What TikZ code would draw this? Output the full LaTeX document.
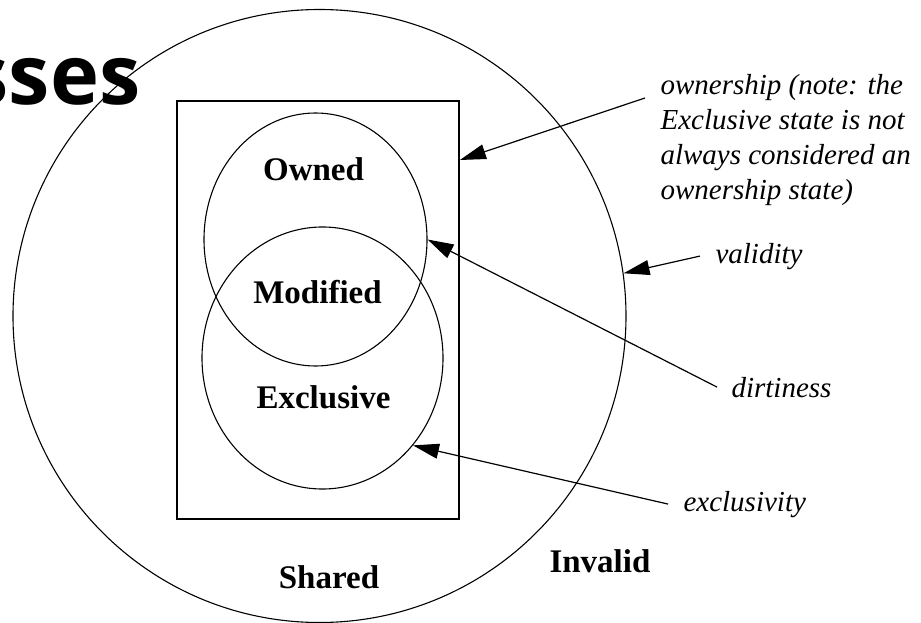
\documentclass[tikz,border=0pt]{standalone}
\usepackage{fontspec}
\setmainfont{Liberation Serif}
\newfontfamily\slidefont{Open Sans}
\usetikzlibrary{shapes.geometric, arrows.meta}

\begin{document}
\begin{tikzpicture}[x=1pt, y=-1pt, line width=1.1pt,
  every node/.style={inner sep=0pt},
  state/.style={font=\fontsize{33}{40}\selectfont\bfseries},
  note/.style={font=\fontsize{29}{35}\selectfont\itshape, align=left},
  pointer/.style={-{Triangle[length=26pt, width=15pt]}, line width=1.2pt}]
  \useasboundingbox (0,0) rectangle (921,623);

  % Sets
  \node (valid) [circle, draw, minimum size=613pt] at (319.5,316) {};
  \node (box) [rectangle, draw, line width=1.8pt, minimum width=282pt, minimum height=418pt] at (318,310) {};
  \node (owned) [ellipse, draw, minimum width=223pt, minimum height=253pt] at (315.5,239.5) {};
  \node (excl) [ellipse, draw, minimum width=241pt, minimum height=262pt] at (322.5,358) {};

  % Slide title (cut off)
  \node (title) [anchor=base east, font=\slidefont\bfseries\fontsize{83}{90}\selectfont] at (141,105) {sses};

  % State names
  \node (ownedlbl) [state] at (313.5,169.5) {Owned};
  \node (modlbl) [state] at (317.5,292.5) {Modified};
  \node (excllbl) [state] at (323.5,397) {Exclusive};
  \node (sharedlbl) [state] at (329,577.5) {Shared};
  \node (invalidlbl) [state] at (600,561.5) {Invalid};

  % Property notes
  \node (ownnote) [note, anchor=base west] at (660,199) {ownership (note: the\\Exclusive state is not\\always considered an\\ownership state)};
  \node (validnote) [note, anchor=base west] at (715,263) {validity};
  \node (dirtynote) [note, anchor=base west] at (731,397) {dirtiness};
  \node (exclnote) [note, anchor=base west] at (683,511) {exclusivity};

  % Arrows
  \draw[pointer] ([xshift=-15pt, yshift=101pt]ownnote.base west) -- ([yshift=150pt]box.east);
  \draw[pointer] ([xshift=-15pt]validnote.west) -- (valid.8);
  \draw[pointer] ([xshift=-14pt]dirtynote.west) -- (owned.east);
  \draw[pointer] ([xshift=-15pt]exclnote.west) -- (excl.-44);
\end{tikzpicture}
\end{document}
